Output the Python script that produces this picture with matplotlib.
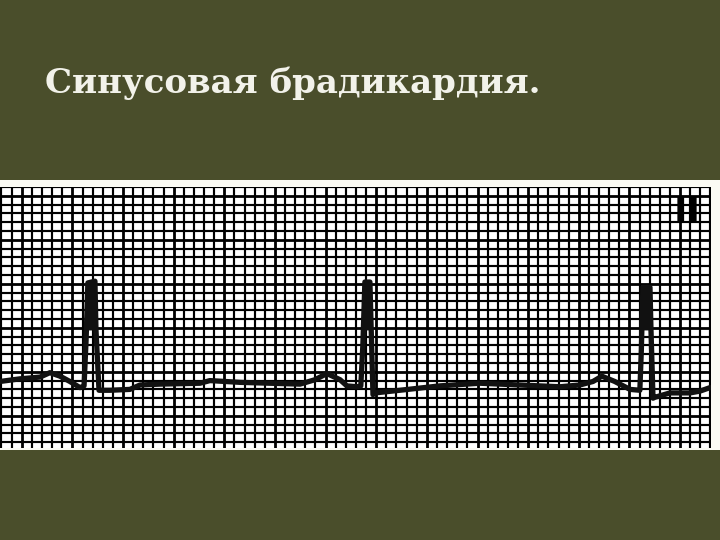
import matplotlib
matplotlib.use("Agg")
import matplotlib.pyplot as plt
import numpy as np
from matplotlib.patches import Rectangle

# ---- data (time in s, amplitude in mV) ----
title = "Синусовая брадикардия."
lead_label = "II"

ecg_t = [0.000, 0.079, 0.158, 0.197, 0.237, 0.276, 0.316, 0.332, 0.340, 0.347,
         0.375, 0.379, 0.391, 0.434, 0.513, 0.553, 0.632, 0.790, 0.829, 0.948,
         1.066, 1.185, 1.244, 1.291, 1.343, 1.370, 1.410, 1.425, 1.433, 1.441,
         1.461, 1.465, 1.473, 1.481, 1.579, 1.737, 1.895, 2.053, 2.211, 2.290,
         2.342, 2.377, 2.428, 2.488, 2.527, 2.533, 2.539, 2.567, 2.571, 2.579,
         2.586, 2.646, 2.725, 2.764, 2.804]
ecg_mv = [0.04, 0.07, 0.09, 0.14, 0.10, 0.04, -0.03, -0.01, 0.51, 1.16,
          1.18, 0.63, -0.06, -0.06, -0.05, 0.00, 0.01, 0.02, 0.05, 0.03,
          0.02, 0.01, 0.06, 0.13, 0.06, -0.01, -0.02, -0.01, 0.45, 1.17,
          1.17, 0.74, -0.11, -0.09, -0.06, -0.01, 0.02, 0.00, -0.02, 0.00,
          0.04, 0.10, 0.04, -0.05, -0.06, 0.40, 1.11, 1.11, 0.63, -0.15,
          -0.14, -0.09, -0.09, -0.07, -0.03]

small_box_s = 0.04
small_box_mv = 0.1

# ---- figure ----
W, H = 720, 540
fig = plt.figure(figsize=(7.2, 5.4), dpi=100)
fig.patch.set_facecolor("#4a4e2b")

# white paper strip
fig.patches.append(Rectangle((0, 1 - 450 / H), 1, (450 - 180) / H,
                             transform=fig.transFigure, facecolor="#fbfbf4",
                             edgecolor="none", zorder=-5))

ax = fig.add_axes([0, 1 - 448 / H, 711 / W, 261 / H])
ax.set_zorder(2)
ax.set_facecolor("white")
t0, t1 = 0.0, 2.808
v0, v1 = -0.716, 2.25
ax.set_xlim(t0, t1)
ax.set_ylim(v0, v1)
for s in ax.spines.values():
    s.set_visible(False)
ax.set_xticks([])
ax.set_yticks([])

# grid
xs = np.arange(0.0059, t1 + 0.001, small_box_s)
for k, x in enumerate(xs):
    ax.axvline(x, color="black", lw=2.0 if k % 5 == 2 else 1.55, zorder=1)
ys = v1 - small_box_mv * np.arange(0, 30)
for k, y in enumerate(ys):
    if y < v0:
        continue
    ax.axhline(y, color="black", lw=2.0 if k % 5 == 1 else 1.55, zorder=1)

t = np.array(ecg_t)
v = np.array(ecg_mv)
ax.plot(t, v, color="#111111", lw=3.8, solid_joinstyle="round",
        solid_capstyle="round", zorder=3)
ax.fill_between(t, v, 0.62, where=v >= 0.62, interpolate=True,
                color="#111111", lw=0, zorder=3)

ax.text(2.713, 2.15, lead_label, ha="center", va="top", fontsize=26,
        fontweight="bold", family="DejaVu Sans", color="black", zorder=4)

fig.text(45 / W, 1 - 93 / H, title, ha="left", va="baseline",
         fontsize=24.5, fontweight="bold", family="DejaVu Serif",
         color="#f2f2ea")

fig.savefig("out.png", dpi=100, facecolor=fig.get_facecolor())
